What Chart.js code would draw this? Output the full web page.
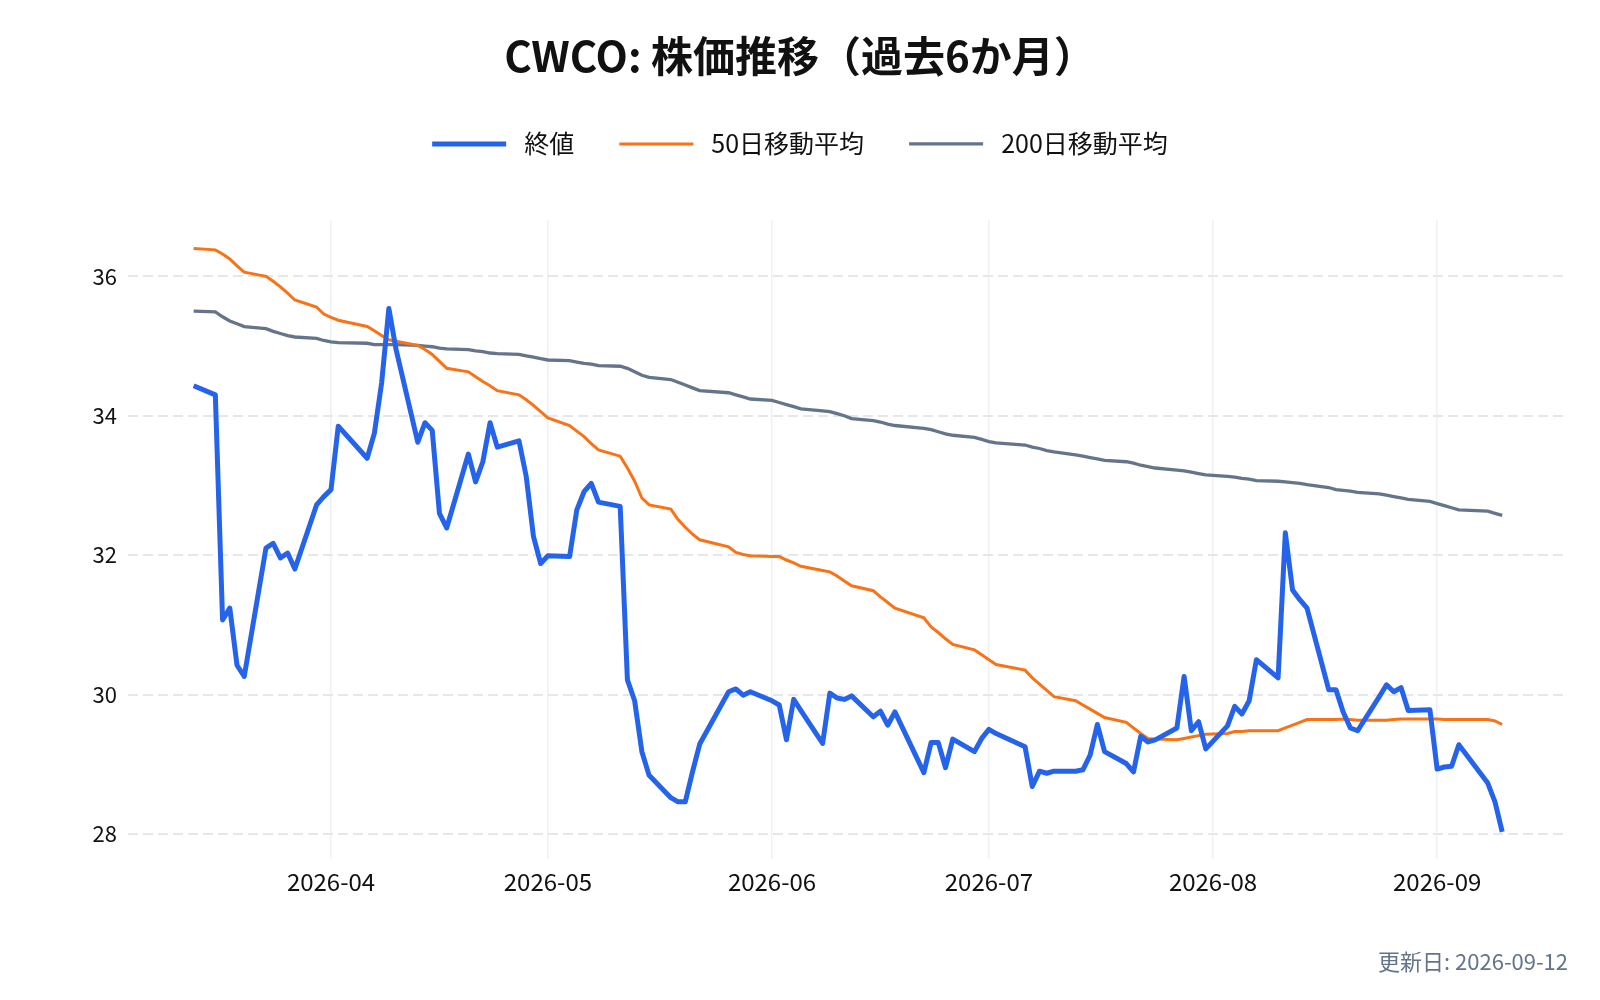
<!DOCTYPE html>
<html>
<head>
<meta charset="utf-8">
<script src="https://cdn.jsdelivr.net/npm/chart.js@4.4.1/dist/chart.umd.min.js"></script>
<style>
  html, body { margin: 0; padding: 0; background: #fff; }
  #wrap { width: 1600px; height: 1000px; }
</style>
</head>
<body>
<div id="wrap"><canvas id="stockChart" width="1600" height="1000"></canvas></div>
<script>
// trading days (2026)
const dates = [
    "03-13","03-16","03-17","03-18","03-19","03-20","03-23","03-24","03-25","03-26","03-27","03-30","03-31",
    "04-01","04-02","04-06","04-07","04-08","04-09","04-10","04-13","04-14","04-15","04-16","04-17","04-20","04-21","04-22","04-23","04-24","04-27","04-28","04-29","04-30",
    "05-01","05-04","05-05","05-06","05-07","05-08","05-11","05-12","05-13","05-14","05-15","05-18","05-19","05-20","05-21","05-22","05-26","05-27","05-28","05-29",
    "06-01","06-02","06-03","06-04","06-05","06-08","06-09","06-10","06-11","06-12","06-15","06-16","06-17","06-18","06-22","06-23","06-24","06-25","06-26","06-29","06-30",
    "07-01","07-02","07-06","07-07","07-08","07-09","07-10","07-13","07-14","07-15","07-16","07-17","07-20","07-21","07-22","07-23","07-24","07-27","07-28","07-29","07-30","07-31",
    "08-03","08-04","08-05","08-06","08-07","08-10","08-11","08-12","08-13","08-14","08-17","08-18","08-19","08-20","08-21","08-24","08-25","08-26","08-27","08-28","08-31",
    "09-01","09-02","09-03","09-04","09-08","09-09","09-10"
];

const closes = [
    34.43,34.30,31.07,31.24,30.42,30.26,32.10,32.17,31.96,32.03,31.80,32.72,32.84,
    32.94,33.85,33.39,33.75,34.47,35.54,34.95,33.62,33.90,33.79,32.60,32.39,33.45,33.05,33.34,33.90,33.55,33.64,33.13,32.27,31.88,
    31.99,31.98,32.65,32.91,33.03,32.76,32.70,30.21,29.91,29.18,28.84,28.52,28.46,28.46,28.89,29.29,30.04,30.08,29.99,30.04,
    29.91,29.85,29.35,29.93,29.77,29.30,30.02,29.95,29.93,29.98,29.68,29.76,29.56,29.75,28.88,29.31,29.31,28.95,29.36,29.18,29.37,
    29.50,29.44,29.25,28.68,28.90,28.87,28.90,28.90,28.92,29.13,29.57,29.18,29.01,28.89,29.40,29.32,29.35,29.52,30.26,29.48,29.61,29.22,
    29.55,29.83,29.72,29.91,30.50,30.24,32.32,31.50,31.36,31.24,30.07,30.07,29.75,29.52,29.48,29.97,30.14,30.04,30.10,29.77,29.78,
    28.93,28.96,28.97,29.28,28.73,28.46,28.03
];

const ma50 = [
    36.40,36.38,36.32,36.25,36.15,36.06,36.00,35.93,35.85,35.76,35.66,35.56,35.46,
    35.41,35.37,35.28,35.22,35.15,35.09,35.07,35.01,34.95,34.88,34.78,34.68,34.63,34.56,34.49,34.43,34.36,34.30,34.23,34.15,34.06,
    33.97,33.86,33.78,33.70,33.60,33.51,33.42,33.25,33.06,32.82,32.72,32.66,32.51,32.40,32.30,32.22,32.12,32.04,32.01,31.99,
    31.98,31.98,31.93,31.89,31.84,31.78,31.76,31.70,31.63,31.56,31.49,31.40,31.32,31.24,31.10,30.97,30.89,30.80,30.72,30.64,30.57,
    30.50,30.43,30.35,30.24,30.15,30.06,29.97,29.91,29.85,29.79,29.73,29.67,29.60,29.52,29.44,29.37,29.36,29.35,29.37,29.39,29.41,29.43,
    29.44,29.47,29.47,29.48,29.48,29.48,29.52,29.56,29.60,29.64,29.64,29.64,29.65,29.64,29.63,29.63,29.63,29.64,29.65,29.65,29.65,
    29.65,29.64,29.64,29.64,29.64,29.62,29.57
];

const ma200 = [
    35.50,35.49,35.42,35.36,35.32,35.28,35.25,35.21,35.18,35.15,35.13,35.11,35.08,
    35.06,35.05,35.04,35.02,35.02,35.02,35.02,35.01,35.00,34.99,34.97,34.96,34.95,34.93,34.92,34.90,34.89,34.88,34.86,34.84,34.82,
    34.80,34.79,34.77,34.75,34.74,34.72,34.71,34.68,34.63,34.58,34.55,34.52,34.48,34.44,34.40,34.36,34.33,34.30,34.27,34.24,
    34.22,34.19,34.16,34.13,34.10,34.07,34.06,34.03,34.00,33.96,33.93,33.91,33.88,33.86,33.82,33.80,33.77,33.74,33.72,33.69,33.66,
    33.63,33.61,33.58,33.55,33.53,33.50,33.48,33.44,33.42,33.40,33.38,33.36,33.34,33.32,33.29,33.27,33.25,33.22,33.21,33.19,33.17,33.15,
    33.13,33.12,33.10,33.09,33.07,33.06,33.05,33.04,33.03,33.01,32.97,32.94,32.93,32.92,32.90,32.88,32.86,32.84,32.82,32.80,32.77,
    32.74,32.71,32.68,32.65,32.63,32.60,32.57
];

const monthTicks = ["2026-04", "2026-05", "2026-06", "2026-07", "2026-08", "2026-09"];
const yTicks = [28, 30, 32, 34, 36];

const seriesNames = ["終値", "50日移動平均", "200日移動平均"];
const chartTitle = "CWCO: 株価推移（過去6か月）";
const updatedText = "更新日: 2026-09-12";

// days counted from 2026-04-01
const BASE = Date.UTC(2026, 3, 1);
function dayNum(str) {
    const p = str.split("-").map(Number);
    return (Date.UTC(p[0], p[1] - 1, p[2] || 1) - BASE) / 86400000;
}

function toPoints(values) {
    return values.map((v, i) => ({ x: dayNum("2026-" + dates[i]), y: v }));
}

Chart.defaults.font.family = '"Noto Sans CJK JP", "Noto Sans", sans-serif';
Chart.defaults.color = "#111";

const ctx = document.getElementById("stockChart").getContext("2d");
new Chart(ctx, {
    type: "line",
    data: {
        datasets: [
            {
                label: seriesNames[0],
                data: toPoints(closes),
                borderColor: "#2563eb",
                backgroundColor: "#2563eb",
                borderWidth: 5,
                borderJoinStyle: "round",
                pointRadius: 0,
                tension: 0
            },
            {
                label: seriesNames[1],
                data: toPoints(ma50),
                borderColor: "#f97316",
                backgroundColor: "#f97316",
                borderWidth: 3,
                pointRadius: 0,
                tension: 0
            },
            {
                label: seriesNames[2],
                data: toPoints(ma200),
                borderColor: "#64748b",
                backgroundColor: "#64748b",
                borderWidth: 3.3,
                pointRadius: 0,
                tension: 0
            }
        ]
    },
    options: {
        responsive: false,
        animation: false,
        devicePixelRatio: 1,
        layout: { padding: { left: 32, right: 32, top: 0, bottom: 0 } },
        plugins: {
            title: {
                display: true,
                text: chartTitle,
                color: "#111",
                font: { size: 42, weight: "bold" },
                padding: { top: 31, bottom: 5 }
            },
            // empty block: keeps the plot area clear of the legend
            subtitle: {
                display: true,
                text: "",
                position: "top",
                weight: 500,
                font: { size: 10 },
                padding: { top: 0, bottom: 41.5 }
            },
            legend: {
                display: true,
                labels: {
                    usePointStyle: true,
                    pointStyle: "line",
                    pointStyleWidth: 74,
                    padding: 45,
                    color: "#111",
                    font: { size: 25 },
                    generateLabels: (chart) => {
                        const items = Chart.defaults.plugins.legend.labels.generateLabels(chart);
                        items.forEach(it => { it.text = " " + it.text; });
                        return items;
                    }
                }
            },
            tooltip: { enabled: false }
        },
        scales: {
            x: {
                type: "linear",
                min: -28.08,
                max: 171.1,
                afterBuildTicks: (scale) => {
                    scale.ticks = monthTicks.map(m => ({ value: dayNum(m) }));
                },
                afterFit: (scale) => { scale.height = 141; },
                ticks: {
                    autoSkip: false,
                    maxRotation: 0,
                    padding: 8,
                    color: "#111",
                    font: { size: 24 },
                    callback: (value) => {
                        const m = monthTicks.find(t => dayNum(t) === value);
                        return m || "";
                    }
                },
                title: {
                    display: true,
                    text: updatedText,
                    align: "end",
                    color: "#64748b",
                    font: { size: 22 },
                    padding: { top: 0, bottom: 25 }
                },
                grid: { color: "#edf1f6", lineWidth: 1.5, drawTicks: false },
                border: { display: false }
            },
            y: {
                min: 27.64,
                max: 36.81,
                afterBuildTicks: (scale) => {
                    scale.ticks = yTicks.map(v => ({ value: v }));
                },
                afterFit: (scale) => { scale.width = 96; },
                ticks: {
                    padding: 11,
                    color: "#111",
                    font: { size: 22 }
                },
                grid: { color: "#e5e7eb", lineWidth: 2, drawTicks: false },
                border: { display: false, dash: [10, 5] }
            }
        }
    }
});
</script>
</body>
</html>
